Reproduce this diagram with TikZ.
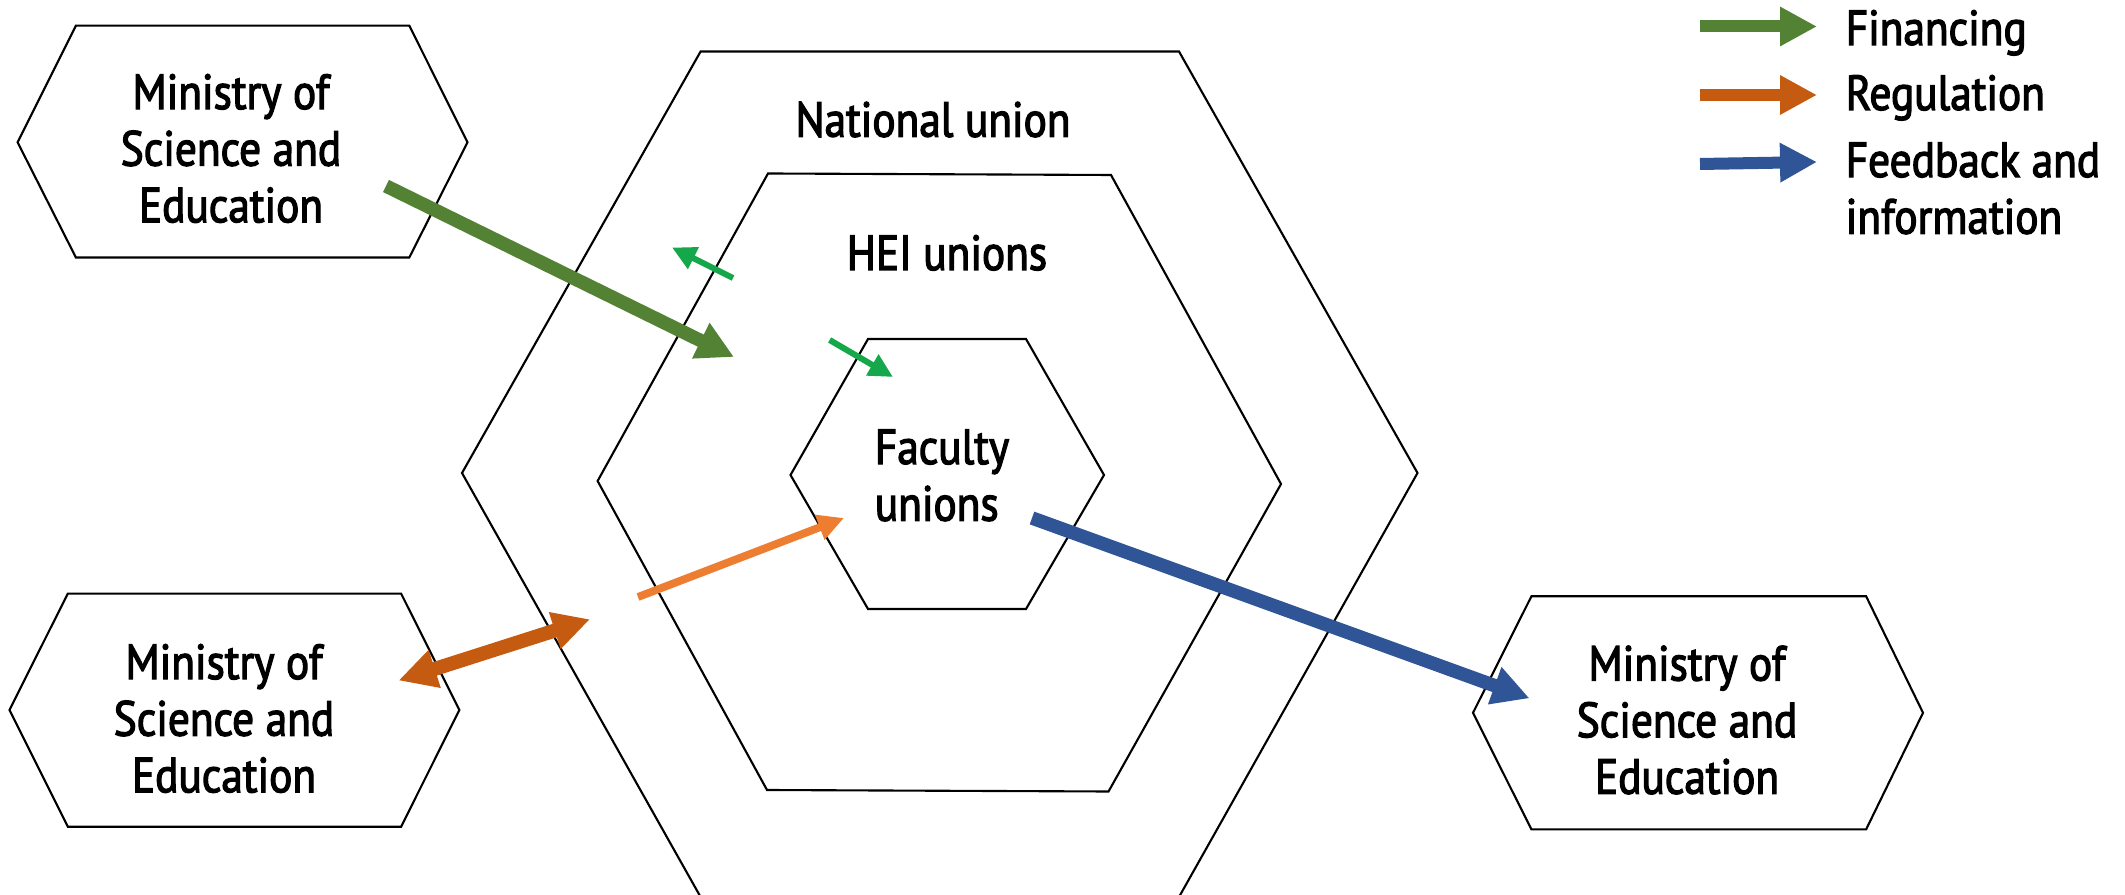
\documentclass[tikz,border=0pt]{standalone}
\usepackage{fontspec}
\setmainfont{PT Sans}[FakeStretch=0.88]
\newfontfamily\dinlike{PT Sans}[FakeStretch=0.88, FakeBold=2.5]
\usepackage{xcolor}
\usetikzlibrary{arrows.meta}

\definecolor{finGreen}{HTML}{548235}
\definecolor{regOrange}{HTML}{C55A11}
\definecolor{fbBlue}{HTML}{2F5597}
\definecolor{lightGreen}{HTML}{14A84B}
\definecolor{lightOrange}{HTML}{ED7D31}

\begin{document}
\begin{tikzpicture}[x=0.01cm, y=-0.01cm,
    hexline/.style={draw=black, line width=0.6pt, fill=white},
    lbl/.style={inner sep=0pt, font=\dinlike\fontsize{14}{16.1}\selectfont, align=center},
    bigtip/.style={-{Triangle[length=0.37cm,width=0.37cm]}},
    finarrow/.style={draw=finGreen, line width=0.135cm, bigtip},
    fbarrow/.style={draw=fbBlue, line width=0.135cm, bigtip},
    regarrow/.style={draw=regOrange, line width=0.14cm,
        {Triangle[length=0.38cm,width=0.37cm]}-{Triangle[length=0.37cm,width=0.36cm]}},
    smallarrow/.style={draw=lightGreen, line width=0.06cm, -{Triangle[length=0.24cm,width=0.23cm]}},
    orarrow/.style={draw=lightOrange, line width=0.078cm, -{Triangle[length=0.26cm,width=0.25cm]}}]
    \useasboundingbox (0,0) rectangle (2125,895);

    % nested unions
    \draw[hexline] (700.6,51.5) -- (1179,51.5) -- (1417.5,473) -- (1179,897) -- (700.6,897) -- (462,473) -- cycle;
    \node[lbl, anchor=base] (natLbl) at (933,136.7) {National union};
    \draw[hexline] (768,173.5) -- (1111,175) -- (1281,484) -- (1108.5,791.5) -- (767,790) -- (597.6,481) -- cycle;
    \node[lbl, anchor=base] (heiLbl) at (947,270) {HEI unions};
    \draw[hexline] (868,339) -- (1026,339) -- (1104,475) -- (1026,609) -- (868,609) -- (790.5,475) -- cycle;
    \node[lbl, align=left] (facLbl) at (942,475.4) {Faculty\\unions};

    % ministries
    \draw[hexline] (17.6,142.3) -- (75.9,25.7) -- (409.3,25.7) -- (467.5,142.3) -- (409.3,257.5) -- (75.9,257.5) -- cycle;
    \node[lbl] (mseTop) at (231,148.5) {Ministry of\\Science and\\Education};
    \draw[hexline] (9.5,710) -- (67.8,593.6) -- (401.1,593.6) -- (459.4,710) -- (401.1,826.7) -- (67.8,826.7) -- cycle;
    \node[lbl] (mseLeft) at (224,718.5) {Ministry of\\Science and\\Education};
    \draw[hexline] (1473,712.8) -- (1531.4,596.3) -- (1866.1,596.3) -- (1923,712.8) -- (1866.1,829.4) -- (1531.4,829.4) -- cycle;
    \node[lbl] (mseRight) at (1687,720) {Ministry of\\Science and\\Education};

    % arrow ends
    \coordinate (finA) at (386,186);
    \coordinate (finB) at (734,357);
    \coordinate (upA) at (733,278);
    \coordinate (upB) at (672,247.5);
    \coordinate (downA) at (829.6,340);
    \coordinate (downB) at (893,377);
    \coordinate (orA) at (638,597);
    \coordinate (orB) at (844,518);
    \coordinate (regA) at (398.5,680.5);
    \coordinate (regB) at (590,619.3);
    \coordinate (fbA) at (1032,518);
    \coordinate (fbB) at (1529.5,698.3);

    \draw[finarrow] (finA) -- (finB);
    \draw[smallarrow] (upA) -- (upB);
    \draw[smallarrow] (downA) -- (downB);
    \draw[orarrow] (orA) -- (orB);
    \draw[regarrow] (regA) -- (regB);
    \draw[fbarrow] (fbA) -- (fbB);

    % legend
    \coordinate (legFinA) at (1700,26.5);
    \coordinate (legFinB) at (1817,26.5);
    \coordinate (legRegA) at (1700,95);
    \coordinate (legRegB) at (1817,95);
    \coordinate (legFbA) at (1700,164);
    \coordinate (legFbB) at (1817,162);
    \draw[finarrow, line width=0.12cm] (legFinA) -- (legFinB);
    \draw[regOrange, line width=0.12cm, bigtip] (legRegA) -- (legRegB);
    \draw[fbarrow, line width=0.12cm] (legFbA) -- (legFbB);
    \node[lbl, anchor=base west] (legFin) at (1845,45) {Financing};
    \node[lbl, anchor=base west] (legReg) at (1845,110) {Regulation};
    \node[lbl, align=left, anchor=west] (legFb) at (1845,188.4) {Feedback and\\information};
\end{tikzpicture}
\end{document}
